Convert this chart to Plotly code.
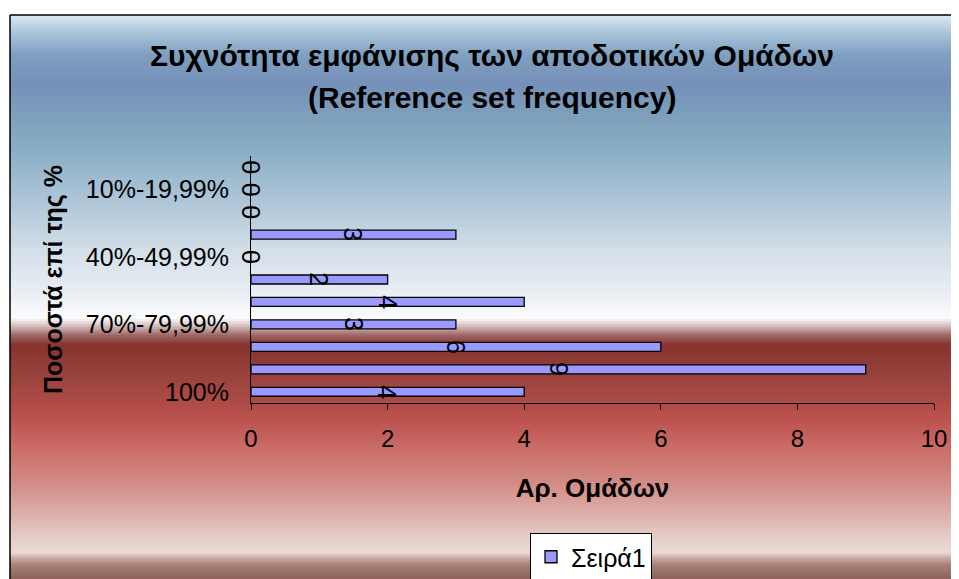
import plotly.graph_objects as go

# ---------------- data ----------------
categories = ["100%", "90%-99,99%", "80%-89,99%", "70%-79,99%", "60%-69,99%",
              "50%-59,99%", "40%-49,99%", "30%-39,99%", "20%-29,99%",
              "10%-19,99%", "0%-9,99%"]
values = [4, 9, 6, 3, 4, 2, 0, 3, 0, 0, 0]
shown_ticks = ["100%", "70%-79,99%", "40%-49,99%", "10%-19,99%"]
x_ticks = [0, 2, 4, 6, 8, 10]
series_name = "Σειρά1"
title_line1 = "Συχνότητα εμφάνισης των αποδοτικών Ομάδων"
title_line2 = "(Reference set frequency)"
x_title = "Αρ. Ομάδων"
y_title = "Ποσοστά επί της %"

# ---------------- geometry (page pixels; page body has an 8px margin) ----------------
OFF = 8
W, H = 959 - OFF, 579 - OFF
PL, PR, PT, PB = 251, 934, 156, 403          # plot area in page pixels
L, T = PL - OFF, PT - OFF
R = W - (PR - OFF)
B = H - (PB - OFF)
PW = PR - PL
PH = PB - PT


def px_x(px):
    return (px - PL) / PW


def px_y(py):
    return (PB - py) / PH


def hex2rgb(h):
    h = h.lstrip("#")
    return tuple(int(h[i:i + 2], 16) for i in (0, 2, 4))


stops = [
    (15, "#dde9f3"), (33, "#a8c4d8"), (55, "#7e9fc0"), (85, "#7690b9"),
    (110, "#7b9dba"), (150, "#8aaec6"), (200, "#adc5d7"), (250, "#d2dee8"),
    (290, "#e8edf3"), (310, "#f5f7fa"), (318, "#fcfbfb"), (325, "#d8c8c8"),
    (335, "#a06866"), (345, "#86322e"), (370, "#94403a"), (400, "#ad4a46"),
    (420, "#bd524f"), (450, "#cb6f69"), (480, "#d28882"), (510, "#dcaaa4"),
    (540, "#e6d0ca"), (553, "#e9dad4"), (558, "#c8aca6"), (565, "#a88078"),
    (580, "#8a6058"),
]


def color_at(y):
    for (y0, c0), (y1, c1) in zip(stops[:-1], stops[1:]):
        if y0 <= y <= y1:
            t = (y - y0) / (y1 - y0) if y1 > y0 else 0
            a, b = hex2rgb(c0), hex2rgb(c1)
            return "rgb(%d,%d,%d)" % tuple(round(a[i] + (b[i] - a[i]) * t) for i in range(3))
    return stops[-1][1]


shapes = []
step = 2
y = 15
while y < 580:
    shapes.append(dict(type="rect", xref="paper", yref="paper", layer="below",
                       x0=px_x(10), x1=px_x(958), y0=px_y(y + step + 0.5), y1=px_y(y),
                       fillcolor=color_at(y + step / 2), line=dict(width=0)))
    y += step
# chart frame (left and top edges visible)
shapes.append(dict(type="line", xref="paper", yref="paper", layer="above",
                   x0=px_x(10), x1=px_x(10), y0=px_y(600), y1=px_y(15),
                   line=dict(color="black", width=1.5)))
shapes.append(dict(type="line", xref="paper", yref="paper", layer="above",
                   x0=px_x(10), x1=px_x(958), y0=px_y(15), y1=px_y(15),
                   line=dict(color="black", width=1.5)))

fig = go.Figure()
fig.add_trace(go.Bar(
    y=categories, x=values, orientation="h", name=series_name,
    marker=dict(color="#9999ff", line=dict(color="black", width=1.3)),
    showlegend=True,
))

FONT = "Liberation Sans, Arial"
annotations = []
for c, v in zip(categories, values):
    annotations.append(dict(x=v / 2, y=c, xref="x", yref="y", text=str(v),
                            showarrow=False, textangle=90,
                            font=dict(family=FONT, size=25, color="black")))

annotations.append(dict(text="<b>%s</b>" % title_line1, xref="paper", yref="paper",
                        x=px_x(492), y=px_y(55), xanchor="center", yanchor="middle",
                        showarrow=False, font=dict(family=FONT, size=30, color="black")))
annotations.append(dict(text="<b>%s</b>" % title_line2, xref="paper", yref="paper",
                        x=px_x(492), y=px_y(97), xanchor="center", yanchor="middle",
                        showarrow=False, font=dict(family=FONT, size=30, color="black")))

fig.update_layout(
    width=W, height=H,
    margin=dict(l=L, r=R, t=T, b=B, pad=0, autoexpand=False),
    paper_bgcolor="white", plot_bgcolor="rgba(0,0,0,0)",
    bargap=0.6,
    shapes=shapes, annotations=annotations,
    font=dict(family=FONT, color="black"),
    legend=dict(x=px_x(530), y=px_y(533), xanchor="left", yanchor="top",
                bgcolor="white", bordercolor="black", borderwidth=1,
                font=dict(size=25, family=FONT), itemwidth=30),
    xaxis=dict(range=[0, 10], tickvals=x_ticks, showgrid=False, zeroline=False,
               showline=True, linecolor="black", linewidth=1,
               ticks="outside", ticklen=6, tickcolor="black",
               tickfont=dict(size=24), ticklabelstandoff=8,
               title=dict(text="<b>%s</b>" % x_title, font=dict(size=26), standoff=28)),
    yaxis=dict(categoryorder="array", categoryarray=categories,
               tickmode="array", tickvals=shown_ticks, ticktext=shown_ticks,
               showgrid=False, zeroline=False, showline=True, linecolor="black",
               linewidth=1, ticks="", tickfont=dict(size=25), ticklabelstandoff=16,
               title=dict(text="<b>%s</b>" % y_title, font=dict(size=25), standoff=16)),
)

fig.write_html("out.html")
